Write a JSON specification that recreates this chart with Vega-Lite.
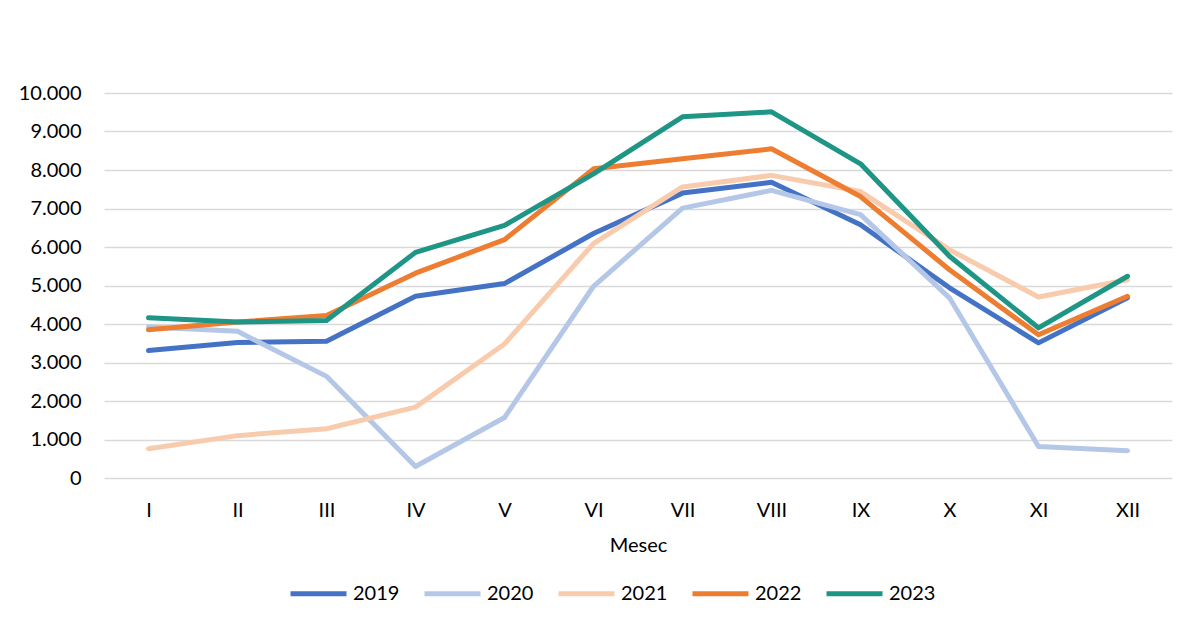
{
  "$schema": "https://vega.github.io/schema/vega-lite/v6.json",
  "width": 1068,
  "height": 385,
  "autosize": {"type": "none"},
  "padding": {"left": 104, "top": 93, "right": 17, "bottom": 151},
  "background": "white",
  "config": {
    "view": {"stroke": null},
    "font": "Lato",
    "axis": {"labelFont": "Lato", "titleFont": "Lato", "labelColor": "#000000", "titleColor": "#000000"}
  },
  "data": {
    "values": [
      {"mesec": "I", "godina": "2019", "vrednost": 3310},
      {"mesec": "II", "godina": "2019", "vrednost": 3520},
      {"mesec": "III", "godina": "2019", "vrednost": 3550},
      {"mesec": "IV", "godina": "2019", "vrednost": 4720},
      {"mesec": "V", "godina": "2019", "vrednost": 5050},
      {"mesec": "VI", "godina": "2019", "vrednost": 6350},
      {"mesec": "VII", "godina": "2019", "vrednost": 7400},
      {"mesec": "VIII", "godina": "2019", "vrednost": 7680},
      {"mesec": "IX", "godina": "2019", "vrednost": 6580},
      {"mesec": "X", "godina": "2019", "vrednost": 4940},
      {"mesec": "XI", "godina": "2019", "vrednost": 3510},
      {"mesec": "XII", "godina": "2019", "vrednost": 4680},
      {"mesec": "I", "godina": "2020", "vrednost": 3920},
      {"mesec": "II", "godina": "2020", "vrednost": 3810},
      {"mesec": "III", "godina": "2020", "vrednost": 2640},
      {"mesec": "IV", "godina": "2020", "vrednost": 300},
      {"mesec": "V", "godina": "2020", "vrednost": 1570},
      {"mesec": "VI", "godina": "2020", "vrednost": 4980},
      {"mesec": "VII", "godina": "2020", "vrednost": 7010},
      {"mesec": "VIII", "godina": "2020", "vrednost": 7470},
      {"mesec": "IX", "godina": "2020", "vrednost": 6840},
      {"mesec": "X", "godina": "2020", "vrednost": 4680},
      {"mesec": "XI", "godina": "2020", "vrednost": 820},
      {"mesec": "XII", "godina": "2020", "vrednost": 710},
      {"mesec": "I", "godina": "2021", "vrednost": 760},
      {"mesec": "II", "godina": "2021", "vrednost": 1100},
      {"mesec": "III", "godina": "2021", "vrednost": 1280},
      {"mesec": "IV", "godina": "2021", "vrednost": 1840},
      {"mesec": "V", "godina": "2021", "vrednost": 3480},
      {"mesec": "VI", "godina": "2021", "vrednost": 6090},
      {"mesec": "VII", "godina": "2021", "vrednost": 7560},
      {"mesec": "VIII", "godina": "2021", "vrednost": 7860},
      {"mesec": "IX", "godina": "2021", "vrednost": 7440},
      {"mesec": "X", "godina": "2021", "vrednost": 5930},
      {"mesec": "XI", "godina": "2021", "vrednost": 4700},
      {"mesec": "XII", "godina": "2021", "vrednost": 5150},
      {"mesec": "I", "godina": "2022", "vrednost": 3850},
      {"mesec": "II", "godina": "2022", "vrednost": 4050},
      {"mesec": "III", "godina": "2022", "vrednost": 4220},
      {"mesec": "IV", "godina": "2022", "vrednost": 5320},
      {"mesec": "V", "godina": "2022", "vrednost": 6190},
      {"mesec": "VI", "godina": "2022", "vrednost": 8030},
      {"mesec": "VII", "godina": "2022", "vrednost": 8290},
      {"mesec": "VIII", "godina": "2022", "vrednost": 8550},
      {"mesec": "IX", "godina": "2022", "vrednost": 7310},
      {"mesec": "X", "godina": "2022", "vrednost": 5410},
      {"mesec": "XI", "godina": "2022", "vrednost": 3720},
      {"mesec": "XII", "godina": "2022", "vrednost": 4720},
      {"mesec": "I", "godina": "2023", "vrednost": 4160},
      {"mesec": "II", "godina": "2023", "vrednost": 4050},
      {"mesec": "III", "godina": "2023", "vrednost": 4090},
      {"mesec": "IV", "godina": "2023", "vrednost": 5860},
      {"mesec": "V", "godina": "2023", "vrednost": 6560},
      {"mesec": "VI", "godina": "2023", "vrednost": 7900},
      {"mesec": "VII", "godina": "2023", "vrednost": 9380},
      {"mesec": "VIII", "godina": "2023", "vrednost": 9510},
      {"mesec": "IX", "godina": "2023", "vrednost": 8160},
      {"mesec": "X", "godina": "2023", "vrednost": 5760},
      {"mesec": "XI", "godina": "2023", "vrednost": 3900},
      {"mesec": "XII", "godina": "2023", "vrednost": 5240}
    ]
  },
  "mark": {"type": "line", "strokeWidth": 5, "strokeCap": "round", "strokeJoin": "round"},
  "encoding": {
    "x": {
      "field": "mesec",
      "type": "ordinal",
      "sort": ["I", "II", "III", "IV", "V", "VI", "VII", "VIII", "IX", "X", "XI", "XII"],
      "scale": {"type": "point", "padding": 0.5},
      "axis": {
        "title": "Mesec",
        "labelAngle": 0,
        "labelFontSize": 20,
        "titleFontSize": 20,
        "titleFontWeight": "normal",
        "labelPadding": 22,
        "titlePadding": 15,
        "ticks": false,
        "domain": false,
        "grid": false
      }
    },
    "y": {
      "field": "vrednost",
      "type": "quantitative",
      "scale": {"domain": [0, 10000], "nice": false},
      "axis": {
        "title": null,
        "values": [0, 1000, 2000, 3000, 4000, 5000, 6000, 7000, 8000, 9000, 10000],
        "labelExpr": "replace(format(datum.value, ',d'), ',', '.')",
        "labelFontSize": 20,
        "labelPadding": 23,
        "ticks": false,
        "domain": false,
        "grid": true,
        "gridColor": "#D9D9D9",
        "gridWidth": 1.5
      }
    },
    "color": {
      "field": "godina",
      "type": "nominal",
      "scale": {
        "domain": ["2019", "2020", "2021", "2022", "2023"],
        "range": ["#4472C4", "#B4C7E7", "#F8CBAD", "#ED7D31", "#1F9585"]
      },
      "legend": {
        "title": null,
        "orient": "none",
        "direction": "horizontal",
        "legendX": 184,
        "legendY": 470,
        "symbolType": "stroke",
        "symbolStrokeWidth": 5,
        "symbolSize": 3136,
        "labelFontSize": 20,
        "labelFont": "Lato",
        "labelColor": "#000000",
        "labelOffset": 4,
        "columnPadding": 14
      }
    }
  }
}
